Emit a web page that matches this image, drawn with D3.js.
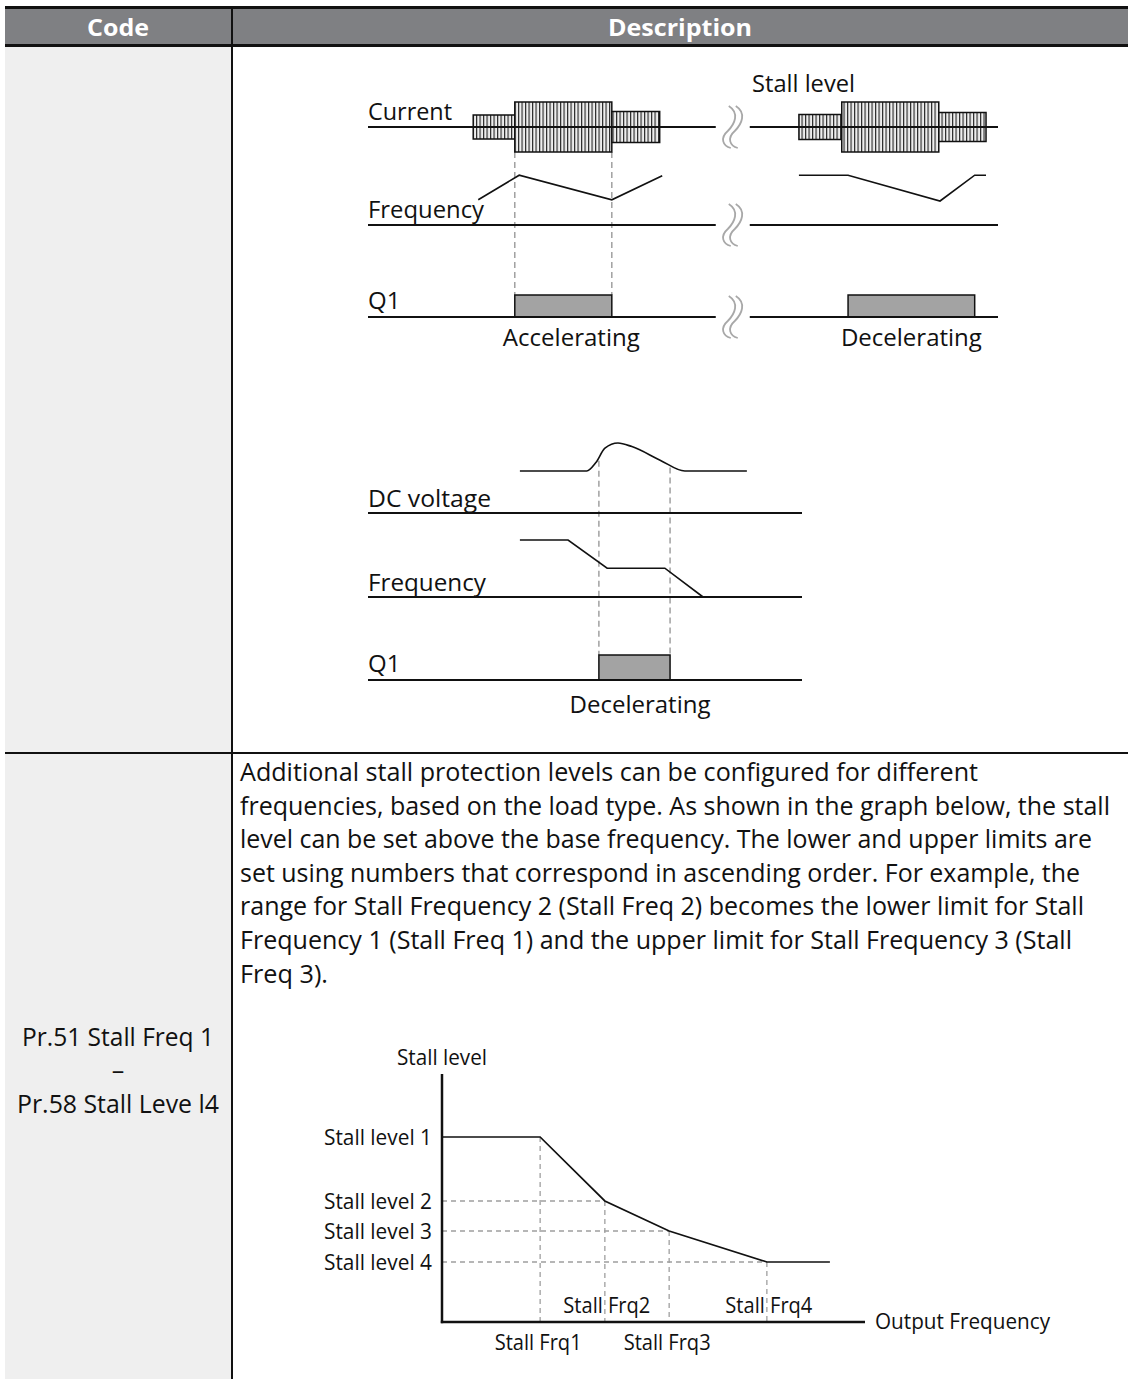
<!DOCTYPE html>
<html><head><meta charset="utf-8">
<script src="https://cdn.jsdelivr.net/npm/d3@7"></script>
<style>body{margin:0;background:#fff}svg{display:block}text{font-family:"Open Sans","Noto Sans",sans-serif}</style>
</head><body><svg id="c" width="1128" height="1379"></svg>
<script>
// ---------------- DATA ----------------
const headerLabels = ["Code", "Description"];
const codeLines = ["Pr.51 Stall Freq 1", "–", "Pr.58 Stall Leve l4"];
const paragraphLines = [
  "Additional stall protection levels can be configured for different",
  "frequencies, based on the load type. As shown in the graph below, the stall",
  "level can be set above the base frequency. The lower and upper limits are",
  "set using numbers that correspond in ascending order. For example, the",
  "range for Stall Frequency 2 (Stall Freq 2) becomes the lower limit for Stall",
  "Frequency 1 (Stall Freq 1) and the upper limit for Stall Frequency 3 (Stall",
  "Freq 3)."
];

// Upper timing diagram: time in % of panel width, levels in % of row range
const upperRowLabels = ["Current", "Frequency", "Q1"];
const upperTitle = "Stall level";
const currentAccel = [{start:16.7,end:23.3,level:48},{start:23.3,end:38.7,level:100},{start:38.7,end:46.3,level:62}];
const currentDecel = [{start:68.4,end:75.2,level:50},{start:75.2,end:90.6,level:100},{start:90.6,end:98.1,level:58}];
const freqAccel = [[17.5,42],[24.0,83],[38.7,42],[46.7,82]];
const freqDecel = [[68.4,83],[76.2,83],[90.8,40],[96.3,83],[98.1,83]];
const q1Upper = [{start:23.3,end:38.7,label:"Accelerating"},{start:76.2,end:96.3,label:"Decelerating"}];
const upperBreak = [55.2, 60.6];

// Lower timing diagram
const lowerRowLabels = ["DC voltage", "Frequency", "Q1"];
const dcVoltage = [[35,52.5],[50.4,52.5],[52.5,63],[54.6,81],[57.6,87.5],[60.8,83],[67.3,66],[73,52.5],[87.3,52.5]];
const freqLower = [[35,95],[46.1,95],[55.1,48],[68.4,48],[77.2,0]];
const q1Lower = [{start:53.2,end:69.6,label:"Decelerating"}];

// Stall level vs output frequency chart
const stallAxisTitles = ["Stall level", "Output Frequency"];
const stallFreqLabels = ["Stall Frq1", "Stall Frq2", "Stall Frq3", "Stall Frq4"];
const stallFreqValues = [23.2, 38.5, 53.7, 76.8];
const stallLevelLabels = ["Stall level 1", "Stall level 2", "Stall level 3", "Stall level 4"];
const stallLevelValues = [74.6, 48.8, 36.7, 24.2];
const stallCurveFreq = [0, 23.2, 38.5, 53.7, 76.8, 91.7];
const stallCurveLevel = [74.6, 74.6, 48.8, 36.7, 24.2, 24.2];

// ---------------- RENDER ----------------
const svg = d3.select("#c");
const defs = svg.append("defs");
const pat = defs.append("pattern").attr("id","hatch").attr("patternUnits","userSpaceOnUse")
  .attr("width",3.5).attr("height",10);
pat.append("rect").attr("width",3.5).attr("height",10).attr("fill","#eeeeee");
pat.append("line").attr("x1",0.6).attr("x2",0.6).attr("y1",0).attr("y2",10).attr("stroke","#1a1a1a").attr("stroke-width",1.1);

function txt(g, s, x, y, o = {}) {
  const t = g.append("text").attr("x", x).attr("y", y)
    .attr("font-size", o.size || 24).attr("text-anchor", o.anchor || "start")
    .attr("font-weight", o.weight || 500).attr("fill", o.fill || "#111").text(s);
  if (o.fit) t.attr("textLength", o.fit).attr("lengthAdjust", "spacingAndGlyphs");
  return t;
}

// Table
svg.append("rect").attr("x",5).attr("y",46).attr("width",227).attr("height",1333).attr("fill","#efefef");
svg.append("rect").attr("x",5).attr("y",7).attr("width",1123).attr("height",39).attr("fill","#7f8083");
svg.append("line").attr("x1",5).attr("x2",1128).attr("y1",7.5).attr("y2",7.5).attr("stroke","#111").attr("stroke-width",3);
svg.append("line").attr("x1",5).attr("x2",1128).attr("y1",45.5).attr("y2",45.5).attr("stroke","#111").attr("stroke-width",3);
svg.append("line").attr("x1",232).attr("x2",232).attr("y1",7).attr("y2",1379).attr("stroke","#111").attr("stroke-width",2);
svg.append("line").attr("x1",5).attr("x2",1128).attr("y1",753).attr("y2",753).attr("stroke","#111").attr("stroke-width",2);
txt(svg, headerLabels[0], 118, 36, {size:24, anchor:"middle", weight:700, fill:"#fff", fit:62});
txt(svg, headerLabels[1], 680, 36, {size:24, anchor:"middle", weight:700, fill:"#fff", fit:144});
const codeFits = [192, null, 202];
const codeY = [1046, 1079, 1113];
codeLines.forEach((s,i) => txt(svg, s, 118, codeY[i], {size:25, anchor:"middle", fit:codeFits[i]}));

// Paragraph
const paraFit = [738, 870, 852, 840, 844, 832, 88];
paragraphLines.forEach((s,i) => txt(svg, s, 240, 781 + i*33.6, {size:25, fit:paraFit[i]}));

// ---------- Upper timing diagram ----------
const gU = svg.append("g");
const xUp = d3.scaleLinear().domain([0,100]).range([368, 998]);
const rowU = {current:127, freq:225, q1:317};
const ampCur = d3.scaleLinear().domain([0,100]).range([0,25]);
const yFreqU = d3.scaleLinear().domain([0,100]).range([rowU.freq, rowU.freq-60]);
const q1H = 22;
const lineGen = (xs, ys) => d3.line().x(d=>xs(d[0])).y(d=>ys(d[1]));

// dashed guides
const guideU = [q1Upper[0].start, q1Upper[0].end];
guideU.forEach(t => gU.append("line").attr("x1",xUp(t)).attr("x2",xUp(t))
  .attr("y1", rowU.current + ampCur(100)).attr("y2", rowU.q1 - q1H)
  .attr("stroke","#9a9a9a").attr("stroke-width",1.4).attr("stroke-dasharray","6,4"));

// current blocks
[currentAccel, currentDecel].forEach(blocks => {
  blocks.forEach(b => gU.append("rect")
    .attr("x", xUp(b.start)).attr("width", xUp(b.end)-xUp(b.start))
    .attr("y", rowU.current - ampCur(b.level)).attr("height", 2*ampCur(b.level))
    .attr("fill","url(#hatch)").attr("stroke","#111").attr("stroke-width",1.5));
});
// Q1 boxes
const q1LabelShift = [8, 0];
q1Upper.forEach((b,i) => {
  gU.append("rect").attr("x", xUp(b.start)).attr("width", xUp(b.end)-xUp(b.start))
    .attr("y", rowU.q1 - q1H).attr("height", q1H)
    .attr("fill","#a3a3a3").attr("stroke","#111").attr("stroke-width",1.5);
  txt(gU, b.label, xUp((b.start+b.end)/2) + q1LabelShift[i], 346, {size:24, anchor:"middle", fit:i===0?137:141});
});
// row axes with break
[rowU.current, rowU.freq, rowU.q1].forEach(y => {
  gU.append("line").attr("x1",xUp(0)).attr("x2",xUp(upperBreak[0])).attr("y1",y).attr("y2",y).attr("stroke","#111").attr("stroke-width",2);
  gU.append("line").attr("x1",xUp(upperBreak[1])).attr("x2",xUp(100)).attr("y1",y).attr("y2",y).attr("stroke","#111").attr("stroke-width",2);
  const cx = xUp((upperBreak[0]+upperBreak[1])/2) - 4;
  [0, 7].forEach(dx => {
    const x = cx + dx, top = y - 21, bot = y + 21;
    const p = d3.path();
    p.moveTo(x, top);
    p.bezierCurveTo(x+11, top+7, x+6, y-3, x-1, y+4);
    p.bezierCurveTo(x-9, y+11, x-6, bot-2, x+2, bot);
    gU.append("path").attr("d", p.toString()).attr("fill","none").attr("stroke","#a8a8a8").attr("stroke-width",1.8);
  });
});
// frequency lines
[freqAccel, freqDecel].forEach(d => gU.append("path").datum(d)
  .attr("d", lineGen(xUp, yFreqU)).attr("fill","none").attr("stroke","#111").attr("stroke-width",1.6));
// labels
txt(gU, upperRowLabels[0], 368, 120, {size:24, fit:84});
txt(gU, upperRowLabels[1], 368, 218, {size:24, fit:116});
txt(gU, upperRowLabels[2], 368, 309, {size:24});
txt(gU, upperTitle, 752, 92, {size:24, fit:103});

// ---------- Lower timing diagram ----------
const gL = svg.append("g");
const xLow = d3.scaleLinear().domain([0,100]).range([368, 802]);
const rowL = {dc:513, freq:597, q1:680};
const yDc = d3.scaleLinear().domain([0,100]).range([rowL.dc, rowL.dc-80]);
const yFreqL = d3.scaleLinear().domain([0,100]).range([rowL.freq, rowL.freq-60]);
const q1HL = 25;
const dcAt = t => {
  for (let i=1;i<dcVoltage.length;i++){ const a=dcVoltage[i-1], b=dcVoltage[i];
    if (t>=a[0] && t<=b[0]) return a[1] + (b[1]-a[1])*(t-a[0])/(b[0]-a[0]); }
  return dcVoltage[0][1];
};
[q1Lower[0].start, q1Lower[0].end].forEach(t => gL.append("line")
  .attr("x1",xLow(t)).attr("x2",xLow(t)).attr("y1", yDc(dcAt(t))+3).attr("y2", rowL.q1 - q1HL)
  .attr("stroke","#9a9a9a").attr("stroke-width",1.4).attr("stroke-dasharray","6,4"));
gL.append("path").datum(dcVoltage)
  .attr("d", d3.line().x(d=>xLow(d[0])).y(d=>yDc(d[1])).curve(d3.curveMonotoneX))
  .attr("fill","none").attr("stroke","#111").attr("stroke-width",1.6);
gL.append("path").datum(freqLower).attr("d", lineGen(xLow, yFreqL))
  .attr("fill","none").attr("stroke","#111").attr("stroke-width",1.6);
q1Lower.forEach(b => {
  gL.append("rect").attr("x", xLow(b.start)).attr("width", xLow(b.end)-xLow(b.start))
    .attr("y", rowL.q1 - q1HL).attr("height", q1HL)
    .attr("fill","#a3a3a3").attr("stroke","#111").attr("stroke-width",1.5);
  txt(gL, b.label, 640, 713, {size:24, anchor:"middle", fit:141});
});
[rowL.dc, rowL.freq, rowL.q1].forEach(y => gL.append("line")
  .attr("x1",xLow(0)).attr("x2",xLow(100)).attr("y1",y).attr("y2",y).attr("stroke","#111").attr("stroke-width",2));
txt(gL, lowerRowLabels[0], 368, 507, {size:24, fit:123});
txt(gL, lowerRowLabels[1], 368, 591, {size:24, fit:118});
txt(gL, lowerRowLabels[2], 368, 672, {size:24});

// ---------- Stall level chart ----------
const gS = svg.append("g");
const xS = d3.scaleLinear().domain([0,100]).range([442, 865]);
const yS = d3.scaleLinear().domain([0,100]).range([1322, 1074]);
const dashStyle = s => s.attr("stroke","#9f9f9f").attr("stroke-width",1.3).attr("stroke-dasharray","5,4");
stallFreqValues.forEach((f,i) => {
  dashStyle(gS.append("line").attr("x1",xS(f)).attr("x2",xS(f)).attr("y1",yS(stallCurveLevel[i+1])).attr("y2",yS(0)));
});
stallLevelValues.slice(1).forEach((v,i) => {
  dashStyle(gS.append("line").attr("x1",xS(0)).attr("x2",xS(stallFreqValues[i+1])).attr("y1",yS(v)).attr("y2",yS(v)));
});
gS.append("path").datum(d3.zip(stallCurveFreq, stallCurveLevel))
  .attr("d", d3.line().x(d=>xS(d[0])).y(d=>yS(d[1])))
  .attr("fill","none").attr("stroke","#111").attr("stroke-width",1.7);
gS.append("line").attr("x1",xS(0)).attr("x2",xS(0)).attr("y1",yS(100)).attr("y2",yS(0)+1.2).attr("stroke","#111").attr("stroke-width",2.5);
gS.append("line").attr("x1",xS(0)-1.2).attr("x2",xS(100)).attr("y1",yS(0)).attr("y2",yS(0)).attr("stroke","#111").attr("stroke-width",2.5);
stallLevelLabels.forEach((s,i) => txt(gS, s, xS(0)-10, yS(stallLevelValues[i])+8, {size:21, anchor:"end", fit:108}));
stallFreqLabels.forEach((s,i) => {
  const below = i % 2 === 0;
  txt(gS, s, xS(stallFreqValues[i]) + (below ? -2 : 2), below ? 1350 : 1313, {size:21, anchor:"middle", fit:87});
});
txt(gS, stallAxisTitles[0], xS(0), 1065, {size:21, anchor:"middle", fit:90});
txt(gS, stallAxisTitles[1], xS(100)+10, 1329, {size:21, fit:175});
</script></body></html>
